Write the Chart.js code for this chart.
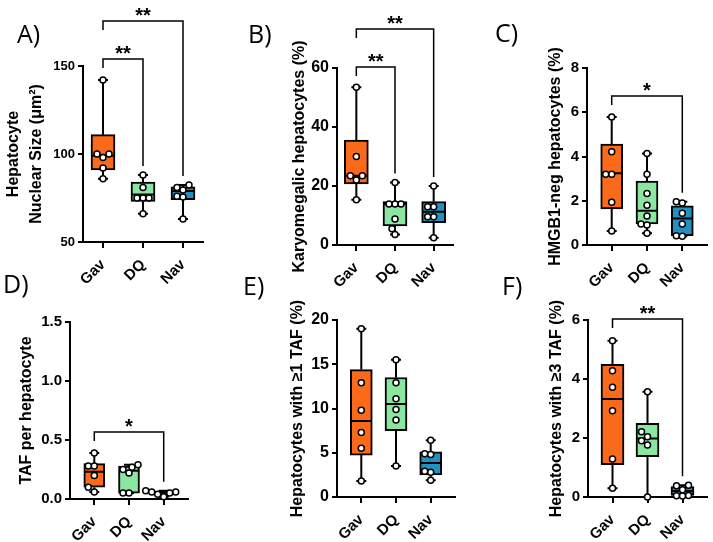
<!DOCTYPE html>
<html>
<head>
<meta charset="utf-8">
<script src="https://cdn.jsdelivr.net/npm/chart.js@4"></script>
<style>
    html, body { margin: 0; padding: 0; background: #fff; }
    #wrap { position: relative; width: 713px; height: 542px; overflow: hidden; }
    #wrap canvas { position: absolute; }
</style>
</head>
<body>
<div id="wrap"></div>
<script>
// groups and colours
const groups = ['Gav', 'DQ', 'Nav'];
const groupColors = ['#fa6a1a', '#8be6a1', '#2490c0'];

// box stats per group: [min, q1, median, q3, max]
// A) nuclear size
const sizeBox = [[86, 91, 99, 111, 142], [66, 73, 77, 84, 88], [63, 74, 79, 81.3, 82.4]];
const sizePts = [[142, 100, 98, 100, 92, 86], [88, 81, 75, 75, 75, 66], [82.4, 81, 79.5, 76, 75.5, 63]];
const sizeTicks = [50, 100, 150];
const sizeSig = [{ from: 0, to: 2, y: 175.6, text: '**' }, { from: 0, to: 1, y: 154, text: '**' }];

// B) karyomegalic
const karyoBox = [[15.3, 20.7, 23.5, 35.6, 53.5], [3.6, 6.5, 13.9, 14.7, 21.2], [2.5, 7.6, 11.3, 14.7, 20]];
const karyoPts = [[53.5, 30, 23.5, 23.5, 22, 15.3], [21.2, 13.9, 13.9, 13.9, 8.8, 5.5, 3.6], [20, 13, 13, 9.6, 9.6, 2.5]];
const karyoTicks = [0, 20, 40, 60];
const karyoSig = [{ from: 0, to: 2, y: 73.2, text: '**' }, { from: 0, to: 1, y: 60.3, text: '**' }];

// C) HMGB1-neg
const hmgbBox = [[0.63, 1.63, 3.24, 4.56, 5.78], [0.53, 0.95, 1.55, 2.89, 4.14], [0.4, 0.42, 1.2, 1.77, 1.95]];
const hmgbPts = [[5.78, 4.21, 3.2, 3.2, 1.93, 0.63], [4.14, 3.2, 2.33, 1.8, 1.31, 0.95, 0.9, 0.53], [1.95, 1.9, 1.43, 0.95, 0.42, 0.4]];
const hmgbTicks = [0, 2, 4, 6, 8];
const hmgbSig = [{ from: 0, to: 2, y: 6.73, text: '*' }];

// D) TAF per hepatocyte
const tafBox = [[0.06, 0.1, 0.23, 0.3, 0.39], [0.05, 0.05, 0.24, 0.28, 0.29], [0.02, 0.035, 0.055, 0.065, 0.07]];
const tafPts = [[0.39, 0.28, 0.28, 0.2, 0.1, 0.06], [0.29, 0.27, 0.25, 0.22, 0.05, 0.05], [0.07, 0.06, 0.06, 0.05, 0.04, 0.02]];
const tafTicks = [0, 0.5, 1, 1.5];
const tafSig = [{ from: 0, to: 2, y: 0.568, text: '*' }];

// E) >=1 TAF
const taf1Box = [[1.8, 4.74, 8.6, 14.4, 19], [3.5, 7.5, 10.5, 13.5, 15.5], [1.9, 2.5, 3.84, 5.1, 6.4]];
const taf1Pts = [[19, 12.9, 9.8, 7.3, 5.5, 1.8], [15.5, 12.9, 11.1, 9.9, 8.7, 3.5], [6.4, 4.9, 4.8, 2.9, 2.8, 1.9]];
const taf1Ticks = [0, 5, 10, 15, 20];
const taf1Sig = [];

// F) >=3 TAF
const taf3Box = [[0.3, 1.1, 3.32, 4.5, 5.3], [0, 1.37, 1.98, 2.5, 3.57], [0.03, 0.05, 0.2, 0.35, 0.4]];
const taf3Pts = [[5.3, 4.28, 3.72, 2.92, 1.29, 0.3], [3.57, 2.21, 2.04, 1.91, 1.76, 0], [0.4, 0.38, 0.25, 0.05, 0.04, 0.03]];
const taf3Ticks = [0, 2, 4, 6];
const taf3Sig = [{ from: 0, to: 2, y: 6.03, text: '**' }];

const FONT = "'Liberation Sans', Arial, sans-serif";
Chart.defaults.font.family = FONT;
Chart.defaults.color = '#000';

// panel layout (page pixels)
const panels = [
    { letter: 'A)', box: sizeBox, pts: sizePts, ticks: sizeTicks, sig: sizeSig, dec: 0,
      title: ['Hepatocyte', 'Nuclear Size (\u03bcm\u00b2)'], titleX: 14,
      canvas: [0, 0, 240, 300], area: [83, 66, 203, 242], pad: 0.5, barW: 24, tickFont: 13, letterAt: [17, 43] },
    { letter: 'B)', box: karyoBox, pts: karyoPts, ticks: karyoTicks, sig: karyoSig, dec: 0,
      title: ['Karyomegalic hepatocytes (%)'], titleX: 300,
      canvas: [235, 0, 235, 300], area: [337, 68, 453, 245], pad: 0.5, barW: 24, tickFont: 16, letterAt: [248, 43] },
    { letter: 'C)', box: hmgbBox, pts: hmgbPts, ticks: hmgbTicks, sig: hmgbSig, dec: 0,
      title: ['HMGB1-neg hepatocytes (%)'], titleX: 556,
      canvas: [480, 0, 233, 300], area: [587, 68, 707, 245], pad: 0.7, barW: 22, tickFont: 15, letterAt: [495, 42] },
    { letter: 'D)', box: tafBox, pts: tafPts, ticks: tafTicks, sig: tafSig, dec: 1,
      title: ['TAF per hepatocyte'], titleX: 27,
      canvas: [0, 270, 240, 272], area: [70, 322, 188, 499], pad: 0.7, barW: 21, tickFont: 15, letterAt: [3, 293] },
    { letter: 'E)', box: taf1Box, pts: taf1Pts, ticks: taf1Ticks, sig: taf1Sig, dec: 0,
      title: ['Hepatocytes with \u22651 TAF (%)'], titleX: 298,
      canvas: [235, 270, 235, 272], area: [337, 320, 455, 497], pad: 0.7, barW: 22, tickFont: 16, letterAt: [243, 295] },
    { letter: 'F)', box: taf3Box, pts: taf3Pts, ticks: taf3Ticks, sig: taf3Sig, dec: 0,
      title: ['Hepatocytes with \u22653 TAF (%)'], titleX: 557,
      canvas: [480, 270, 233, 272], area: [588, 320, 707, 497], pad: 0.7, barW: 23, tickFont: 15, letterAt: [502, 295] }
];

// simple beeswarm: spread points that would overlap
function swarm(vals, pxPerY, pxPerX) {
    const order = vals.map((v, i) => i).sort((a, b) => vals[a] - vals[b]);
    const placed = [];
    const offs = new Array(vals.length).fill(0);
    const d = 6;
    order.forEach(i => {
        const y = vals[i] * pxPerY;
        for (let k = 0; k < 30; k++) {
            const dx = (k % 2 ? -1 : 1) * Math.ceil(k / 2) * 3;
            const hit = placed.some(p => Math.hypot(p.x - dx, p.y - y) < d);
            if (!hit) { placed.push({ x: dx, y }); offs[i] = dx / pxPerX; break; }
        }
    });
    return offs;
}

// whiskers, medians, brackets, titles, letters
function panelPlugin(p) {
    return {
        id: 'panelExtras',
        afterDatasetDraw(chart, args) {
            if (args.index !== 1) return;
            const xs = chart.scales.x, ys = chart.scales.y, ctx = chart.ctx;
            const bars = chart.getDatasetMeta(1).data;
            ctx.save();
            ctx.strokeStyle = '#000';
            ctx.lineWidth = 2;
            p.box.forEach((b, i) => {
                const cx = xs.getPixelForValue(i);
                const half = bars[i].width / 2;
                const [mn, q1, md, q3, mx] = b.map(v => ys.getPixelForValue(v));
                ctx.beginPath();
                ctx.moveTo(cx, q3); ctx.lineTo(cx, mx);
                ctx.moveTo(cx, q1); ctx.lineTo(cx, mn);
                ctx.moveTo(cx - 5, mx); ctx.lineTo(cx + 5, mx);
                ctx.moveTo(cx - 5, mn); ctx.lineTo(cx + 5, mn);
                ctx.moveTo(cx - half + 1, md); ctx.lineTo(cx + half - 1, md);
                ctx.stroke();
            });
            ctx.restore();
        },
        afterDraw(chart) {
            const xs = chart.scales.x, ys = chart.scales.y, ctx = chart.ctx;
            const [ox, oy] = p.canvas;
            ctx.save();
            // significance brackets
            ctx.strokeStyle = '#000';
            ctx.fillStyle = '#000';
            ctx.lineWidth = 1.5;
            ctx.textAlign = 'center';
            ctx.textBaseline = 'alphabetic';
            ctx.font = 'bold 20px ' + FONT;
            p.sig.forEach(s => {
                const x1 = xs.getPixelForValue(s.from), x2 = xs.getPixelForValue(s.to);
                const y = ys.getPixelForValue(s.y);
                const yEnd = ys.getPixelForValue(p.box[s.to][4]) - 9;
                ctx.beginPath();
                ctx.moveTo(x1, y + 9); ctx.lineTo(x1, y); ctx.lineTo(x2, y); ctx.lineTo(x2, yEnd);
                ctx.stroke();
                ctx.fillText(s.text, (x1 + x2) / 2, y + 1);
            });
            // y axis title
            const midY = (chart.chartArea.top + chart.chartArea.bottom) / 2;
            ctx.translate(p.titleX - ox, midY);
            ctx.rotate(-Math.PI / 2);
            ctx.textBaseline = 'middle';
            ctx.font = 'bold 16px ' + FONT;
            p.title.forEach((ln, k) => ctx.fillText(ln, 0, k * 23));
            ctx.restore();
            // panel letter
            ctx.save();
            ctx.fillStyle = '#000';
            ctx.font = "25px 'Open Sans', sans-serif";
            ctx.textBaseline = 'alphabetic';
            ctx.fillText(p.letter, p.letterAt[0] - ox, p.letterAt[1] - oy);
            ctx.restore();
        }
    };
}

const wrap = document.getElementById('wrap');
panels.forEach(p => {
    const [cx, cy, cw, ch] = p.canvas;
    const [L, T, R, B] = p.area;
    const canvas = document.createElement('canvas');
    canvas.width = cw; canvas.height = ch;
    canvas.style.left = cx + 'px'; canvas.style.top = cy + 'px';
    canvas.style.width = cw + 'px'; canvas.style.height = ch + 'px';
    wrap.appendChild(canvas);

    const yMin = p.ticks[0], yMax = p.ticks[p.ticks.length - 1];
    const xMin = -p.pad, xMax = 2 + p.pad;
    const pxPerY = (B - T) / (yMax - yMin);
    const pxPerX = (R - L) / (xMax - xMin);

    const points = [];
    p.pts.forEach((vals, i) => {
        const offs = swarm(vals, pxPerY, pxPerX);
        vals.forEach((v, k) => points.push({ x: i + offs[k], y: v }));
    });

    new Chart(canvas, {
        type: 'bar',
        data: {
            datasets: [
                {
                    type: 'scatter',
                    data: points,
                    pointRadius: 3,
                    pointBackgroundColor: '#fff',
                    pointBorderColor: '#000',
                    pointBorderWidth: 1.5,
                    clip: false
                },
                {
                    type: 'bar',
                    data: p.box.map((b, i) => ({ x: i, y: [b[1], b[3]] })),
                    backgroundColor: groupColors,
                    borderColor: '#000',
                    borderWidth: 2,
                    borderSkipped: false,
                    barThickness: p.barW
                }
            ]
        },
        options: {
            responsive: false,
            animation: false,
            devicePixelRatio: 1,
            layout: { padding: { left: 0, top: T - cy, right: cx + cw - R, bottom: 0 } },
            plugins: { legend: { display: false }, tooltip: { enabled: false } },
            scales: {
                x: {
                    type: 'linear',
                    min: xMin, max: xMax,
                    offset: false,
                    afterFit: s => { s.height = cy + ch - B; },
                    afterBuildTicks: s => { s.ticks = groups.map((g, i) => ({ value: i })); },
                    grid: { offset: false, drawOnChartArea: false, drawTicks: true, tickLength: 6, color: '#000', lineWidth: 2 },
                    border: { color: '#000', width: 2 },
                    ticks: {
                        autoSkip: false, minRotation: 45, maxRotation: 45, padding: 8,
                        font: { size: 15, weight: 'bold' },
                        callback: (v, i) => groups[i]
                    }
                },
                y: {
                    type: 'linear',
                    min: yMin, max: yMax,
                    afterFit: s => { s.width = L - cx; },
                    afterBuildTicks: s => { s.ticks = p.ticks.map(v => ({ value: v })); },
                    grid: { drawOnChartArea: false, drawTicks: true, tickLength: 5, color: '#000', lineWidth: 2 },
                    border: { color: '#000', width: 2 },
                    ticks: {
                        padding: 3,
                        font: { size: p.tickFont, weight: 'bold' },
                        callback: v => v.toFixed(p.dec)
                    }
                }
            }
        },
        plugins: [panelPlugin(p)]
    });
});
</script>
</body>
</html>
